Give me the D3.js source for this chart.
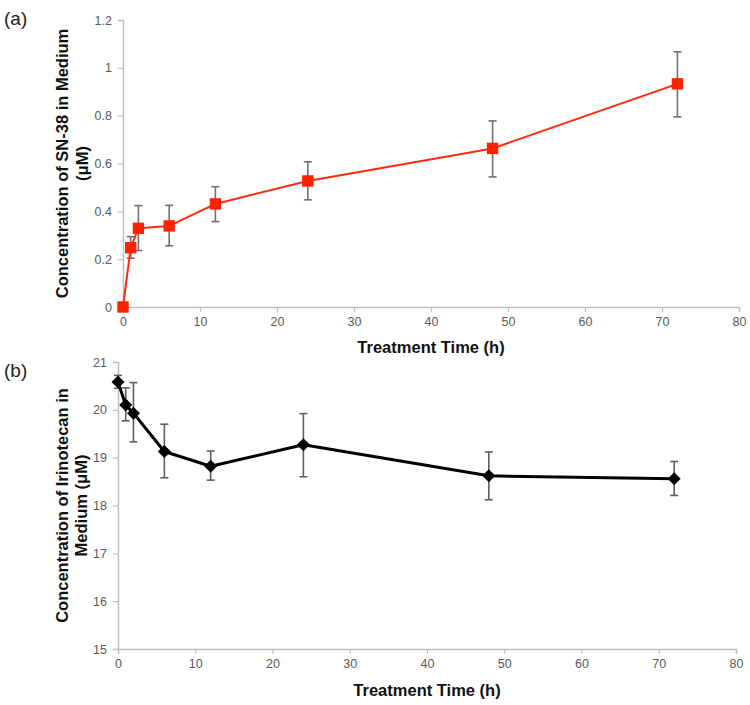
<!DOCTYPE html>
<html>
<head>
<meta charset="utf-8">
<script src="https://cdn.jsdelivr.net/npm/d3@7"></script>
<style>
  html, body { margin: 0; padding: 0; background: #fff; }
  svg { display: block; }
</style>
</head>
<body>
<svg id="chart" width="750" height="705"></svg>
<script>
// ---- Data ----
const times = [0, 1, 2, 6, 12, 24, 48, 72];

const sn38Mean  = [0, 0.248, 0.329, 0.339, 0.431, 0.527, 0.663, 0.933];
const sn38Upper = [null, 0.294, 0.424, 0.425, 0.503, 0.607, 0.778, 1.067];
const sn38Lower = [null, 0.204, 0.236, 0.256, 0.357, 0.448, 0.544, 0.795];

const iriMean  = [20.58, 20.10, 19.93, 19.13, 18.82, 19.27, 18.62, 18.56];
const iriUpper = [20.72, 20.46, 20.57, 19.70, 19.14, 19.92, 19.12, 18.92];
const iriLower = [20.45, 19.77, 19.33, 18.58, 18.53, 18.60, 18.12, 18.21];

const xTicks = [0, 10, 20, 30, 40, 50, 60, 70, 80];
const yTicksA = [0, 0.2, 0.4, 0.6, 0.8, 1, 1.2];
const yTicksB = [15, 16, 17, 18, 19, 20, 21];

const svg = d3.select("#chart");
const axisColor = "#bfbfbf";
const tickTextColor = "#595959";
const tickFont = "Liberation Sans, Arial, sans-serif";

function drawPanel(opts) {
  const {x0, x1, y0, y1, yDomain, yTicks, yFmt, mean, upper, lower,
         lineColor, lineWidth, errColor, marker, xTitleY, yTitleX, yTitleLines, yTitleLineGap} = opts;
  const x = d3.scaleLinear().domain([0, 80]).range([x0, x1]);
  const y = d3.scaleLinear().domain(yDomain).range([y1, y0]);
  const g = svg.append("g");

  // axes
  const xAxis = d3.axisBottom(x).tickValues(xTicks).tickSize(5).tickPadding(5).tickFormat(d3.format("d"));
  const gx = g.append("g").attr("transform", `translate(0,${y1})`).call(xAxis);
  const yAxis = d3.axisLeft(y).tickValues(yTicks).tickSize(5).tickPadding(6).tickFormat(yFmt);
  const gy = g.append("g").attr("transform", `translate(${x0},0)`).call(yAxis);
  [gx, gy].forEach(a => {
    a.select(".domain").attr("stroke", axisColor).attr("stroke-width", 1.5);
    a.selectAll(".tick line").attr("stroke", axisColor).attr("stroke-width", 1.2);
    a.selectAll(".tick text").attr("fill", tickTextColor)
      .style("font-family", tickFont).style("font-size", "12.5px");
  });

  // error bars
  const eb = g.append("g");
  times.forEach((t, i) => {
    if (upper[i] == null) return;
    const cx = x(t);
    eb.append("line").attr("x1", cx).attr("x2", cx).attr("y1", y(upper[i])).attr("y2", y(lower[i]))
      .attr("stroke", errColor).attr("stroke-width", 1.6);
    [upper[i], lower[i]].forEach(v => {
      eb.append("line").attr("x1", cx - 4).attr("x2", cx + 4).attr("y1", y(v)).attr("y2", y(v))
        .attr("stroke", errColor).attr("stroke-width", 1.6);
    });
  });

  // line
  const line = d3.line().x((d, i) => x(times[i])).y(d => y(d));
  g.append("path").datum(mean).attr("d", line).attr("fill", "none")
    .attr("stroke", lineColor).attr("stroke-width", lineWidth).attr("stroke-linejoin", "round");

  // markers
  const sym = d3.symbol().type(marker.type).size(marker.size);
  g.selectAll(".mk").data(mean).enter().append("path")
    .attr("transform", (d, i) => `translate(${x(times[i])},${y(d)})${marker.rotate ? " rotate(45)" : ""}`)
    .attr("d", sym).attr("fill", marker.color);

  // x title
  g.append("text").attr("x", (x0 + x1) / 2 - 0).attr("y", xTitleY)
    .attr("text-anchor", "middle")
    .style("font-family", "Liberation Sans, Arial, sans-serif").style("font-weight", "bold")
    .style("font-size", "16.5px").attr("fill", "#111")
    .text("Treatment Time (h)");

  // y title
  const yc = (y0 + y1) / 2;
  const yt = g.append("text").attr("transform", `translate(${yTitleX},${yc}) rotate(-90)`)
    .attr("text-anchor", "middle")
    .style("font-family", "Liberation Sans, Arial, sans-serif").style("font-weight", "bold")
    .style("font-size", "16.5px").attr("fill", "#111");
  yTitleLines.forEach((s, k) => {
    yt.append("tspan").attr("x", 0).attr("dy", k === 0 ? 0 : yTitleLineGap).text(s);
  });
}

drawPanel({
  x0: 123, x1: 739, y0: 20, y1: 307,
  yDomain: [0, 1.2], yTicks: yTicksA, yFmt: d => d3.format("~g")(d),
  mean: sn38Mean, upper: sn38Upper, lower: sn38Lower,
  lineColor: "#ff2a0f", lineWidth: 2, errColor: "#707070",
  marker: {type: d3.symbolSquare, size: 130, color: "#ff2200", rotate: false},
  xTitleY: 353, yTitleX: 68, yTitleLines: ["Concentration of SN-38 in Medium", "(μM)"], yTitleLineGap: 20
});

drawPanel({
  x0: 118, x1: 736, y0: 362, y1: 649,
  yDomain: [15, 21], yTicks: yTicksB, yFmt: d3.format("d"),
  mean: iriMean, upper: iriUpper, lower: iriLower,
  lineColor: "#000", lineWidth: 3, errColor: "#606060",
  marker: {type: d3.symbolSquare, size: 85, color: "#000", rotate: true},
  xTitleY: 696, yTitleX: 68, yTitleLines: ["Concentration of Irinotecan in", "Medium (μM)"], yTitleLineGap: 19
});

// panel labels
svg.append("text").attr("x", 4).attr("y", 25).style("font-family", "Liberation Sans, Arial, sans-serif")
  .style("font-size", "19px").attr("fill", "#222").text("(a)");
svg.append("text").attr("x", 4).attr("y", 377).style("font-family", "Liberation Sans, Arial, sans-serif")
  .style("font-size", "19px").attr("fill", "#222").text("(b)");
</script>
</body>
</html>
